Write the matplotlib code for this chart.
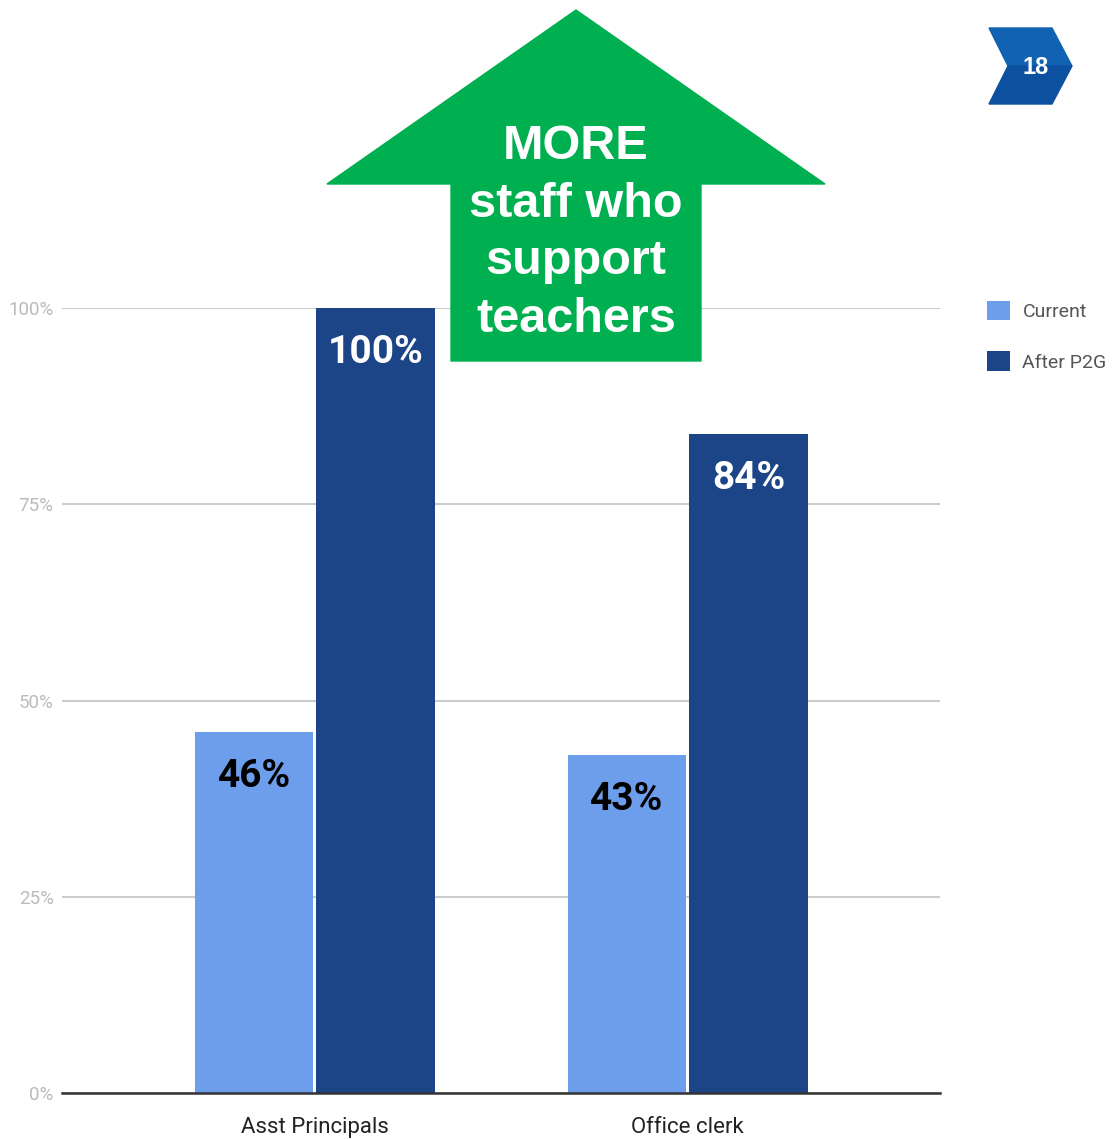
import numpy as np
import matplotlib.pyplot as plt
from matplotlib.patches import Polygon

# data
categories = ["Asst Principals", "Office clerk"]
current = [0.46, 0.43]
after_p2g = [1.00, 0.84]
series_names = ["Current", "After P2G"]
yticks = [0, 0.25, 0.5, 0.75, 1.0]
ytick_labels = ["0%", "25%", "50%", "75%", "100%"]

c_cur = "#6d9eeb"
c_aft = "#1c4587"

W, H = 1112, 1139
fig = plt.figure(figsize=(W / 100, H / 100), dpi=100)

# main chart
ax = fig.add_axes([62 / W, (H - 1093) / H, (940 - 62) / W, (1093 - 308) / H])
x = np.arange(len(categories))
bw = 0.318
b1 = ax.bar(x - bw / 2 - 0.004, current, bw, color=c_cur, zorder=3, label=series_names[0])
b2 = ax.bar(x + bw / 2 + 0.004, after_p2g, bw, color=c_aft, zorder=3, label=series_names[1])

for bars, vals, col in [(b1, current, "black"), (b2, after_p2g, "white")]:
    for r, v in zip(bars, vals):
        ax.annotate(f"{v*100:.0f}%", (r.get_x() + r.get_width() / 2, v),
                    xytext=(0, -32), textcoords="offset points",
                    ha="center", va="center", fontsize=28, fontweight="bold",
                    color=col, family="Roboto", zorder=4)

ax.set_xlim(-0.678, 1.676)
ax.set_ylim(0, 1.0)
ax.set_yticks(yticks)
ax.set_yticklabels(ytick_labels, color="#bbbbbb", fontsize=13.5, family="Roboto")
ax.set_xticks(x)
ax.set_xticklabels(categories, fontsize=16, color="#222222", family="Roboto")
ax.tick_params(length=0, axis="y", pad=6)
ax.tick_params(length=0, axis="x", pad=17)
ax.grid(axis="y", color="#cccccc", linewidth=1.5, zorder=0)
for s in ["left", "right", "top"]:
    ax.spines[s].set_visible(False)
ax.spines["bottom"].set_color("#333333")
ax.spines["bottom"].set_linewidth(1.8)
ax.spines["bottom"].set_zorder(5)

leg = fig.legend(loc="upper left", bbox_to_anchor=(969 / W, (H - 283) / H),
                 frameon=False, handlelength=1.2, handleheight=1.2,
                 handletextpad=0.65, labelspacing=1.55,
                 prop={"family": "Roboto", "size": 14})
for t in leg.get_texts():
    t.set_color("#555555")

# overlay for arrow + page badge (pixel coords)
ov = fig.add_axes([0, 0, 1, 1], zorder=10)
ov.set_xlim(0, W)
ov.set_ylim(H, 0)
ov.axis("off")

arrow = [(576, 10), (825, 184), (701, 184), (701, 361), (451, 361),
         (451, 184), (327, 184)]
ov.add_patch(Polygon(arrow, closed=True, color="#00b050"))
ov.text(576, 233, "MORE\nstaff who\nsupport\nteachers", ha="center", va="center",
        color="white", fontsize=35, fontweight="bold", family="Liberation Sans",
        linespacing=1.37)

top_half = [(989, 28), (1052, 28), (1072, 66), (1008, 66)]
bot_half = [(1008, 66), (1072, 66), (1052, 104), (989, 104)]
ov.add_patch(Polygon(top_half, closed=True, color="#1262b3"))
ov.add_patch(Polygon(bot_half, closed=True, color="#0b519f"))
ov.text(1036, 67, "18", ha="center", va="center", color="white",
        fontsize=17, fontweight="bold", family="Liberation Sans")

fig.savefig("out.png", dpi=100)
